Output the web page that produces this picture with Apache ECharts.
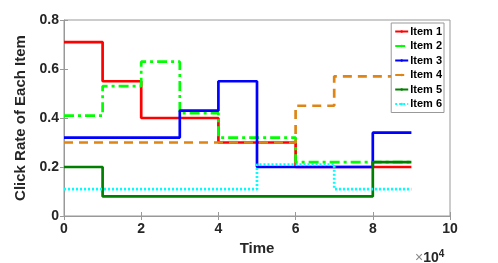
<!DOCTYPE html>
<html>
<head>
<meta charset="utf-8">
<script src="https://cdn.jsdelivr.net/npm/echarts@6/dist/echarts.min.js"></script>
<style>html,body{margin:0;padding:0;background:#fff}#c{width:498px;height:263px}</style>
</head>
<body>
<div id="c"></div>
<script>
var times = [0, 10000, 20000, 30000, 40000, 50000, 60000, 70000, 80000, 90000];
var item1 = [0.71, 0.55, 0.40, 0.40, 0.30, 0.30, 0.20, 0.20, 0.20, 0.20];
var item2 = [0.41, 0.53, 0.63, 0.42, 0.32, 0.32, 0.22, 0.22, 0.22, 0.22];
var item3 = [0.32, 0.32, 0.32, 0.43, 0.55, 0.20, 0.20, 0.20, 0.34, 0.34];
var item4 = [0.30, 0.30, 0.30, 0.30, 0.30, 0.30, 0.45, 0.57, 0.57, 0.57];
var item5 = [0.20, 0.08, 0.08, 0.08, 0.08, 0.08, 0.08, 0.08, 0.22, 0.22];
var item6 = [0.11, 0.11, 0.11, 0.11, 0.11, 0.21, 0.21, 0.11, 0.11, 0.11];
var seriesNames = ['Item 1', 'Item 2', 'Item 3', 'Item 4', 'Item 5', 'Item 6'];
var xTicks = [0, 2, 4, 6, 8, 10];
var yTicks = [0, 0.2, 0.4, 0.6, 0.8];

var allData = [item1, item2, item3, item4, item5, item6];
var colors = ['#ff0000', '#00ff00', '#0000ff', '#de8516', '#007f00', '#00ffff'];
var dashes = ['solid', [10, 4, 3, 4], 'solid', [9, 6], 'solid', [2, 2]];

var chart = echarts.init(document.getElementById('c'), null, {renderer: 'canvas'});
var font = 'Helvetica, Arial, "Liberation Sans", sans-serif';
var axisCol = '#999999';
var txtCol = '#262626';

var series = allData.map(function (arr, i) {
  return {
    name: seriesNames[i],
    type: 'line',
    step: 'end',
    symbol: 'none',
    data: arr.map(function (v, k) { return [times[k], v]; }),
    lineStyle: {color: colors[i], width: 2.7, type: dashes[i]},
    itemStyle: {color: colors[i]},
    z: 2 + i,
    animation: false
  };
});

chart.setOption({
  animation: false,
  textStyle: {fontFamily: font},
  grid: {left: 64, right: 48, top: 20, bottom: 47, show: true, borderColor: axisCol, borderWidth: 1, backgroundColor: 'transparent'},
  legend: {
    orient: 'vertical',
    right: 54,
    top: 23,
    data: seriesNames,
    itemWidth: 13,
    itemHeight: 3,
    itemGap: 3.5,
    padding: [3, 2, 3, 3],
    backgroundColor: '#ffffff',
    borderColor: axisCol,
    borderWidth: 1,
    borderRadius: 0,
    textStyle: {fontFamily: font, fontSize: 11, fontWeight: 'bold', color: '#000', padding: [0, 0, 0, -3]},
    z: 20
  },
  xAxis: [{
    type: 'value', min: 0, max: 100000, interval: 20000,
    name: 'Time', nameLocation: 'middle', nameGap: 24,
    nameTextStyle: {fontSize: 15, fontWeight: 'bold', color: txtCol, fontFamily: font},
    axisLine: {show: true, lineStyle: {color: axisCol}},
    axisTick: {show: true, inside: true, length: 4, lineStyle: {color: axisCol}},
    axisLabel: {fontSize: 14, fontWeight: 'bold', color: txtCol, margin: 6, fontFamily: font,
      formatter: function (v) { return String(v / 10000); }},
    splitLine: {show: false}
  }, {
    type: 'value', min: 0, max: 100000, interval: 20000, position: 'top',
    axisLine: {show: false}, axisLabel: {show: false}, splitLine: {show: false},
    axisTick: {show: true, inside: true, length: 4, lineStyle: {color: axisCol}}
  }],
  yAxis: [{
    type: 'value', min: 0, max: 0.8, interval: 0.2,
    name: 'Click Rate of Each Item', nameLocation: 'middle', nameGap: 33,
    nameTextStyle: {fontSize: 15, fontWeight: 'bold', color: txtCol, fontFamily: font},
    axisLine: {show: true, lineStyle: {color: axisCol}},
    axisTick: {show: true, inside: true, length: 4, lineStyle: {color: axisCol}},
    axisLabel: {fontSize: 14, fontWeight: 'bold', color: txtCol, margin: 5, fontFamily: font,
      formatter: function (v) { return v === 0 ? '0' : v.toFixed(1); }},
    splitLine: {show: false}
  }, {
    type: 'value', min: 0, max: 0.8, interval: 0.2, position: 'right',
    axisLine: {show: false}, axisLabel: {show: false}, splitLine: {show: false},
    axisTick: {show: true, inside: true, length: 4, lineStyle: {color: axisCol}}
  }],
  graphic: [{
    type: 'text', left: 415, top: 249,
    style: {rich: {
      x: {text: '×', fontSize: 14, fill: '#888', fontFamily: font},
      b: {fontSize: 14, fontWeight: 'bold', fill: txtCol, fontFamily: font},
      s: {fontSize: 10, fontWeight: 'bold', fill: txtCol, fontFamily: font, verticalAlign: 'top', padding: [0, 0, 8, 0]}
    }, text: '{x|×}{b|10}{s|4}'}
  }],
  series: series
});
</script>
</body>
</html>
